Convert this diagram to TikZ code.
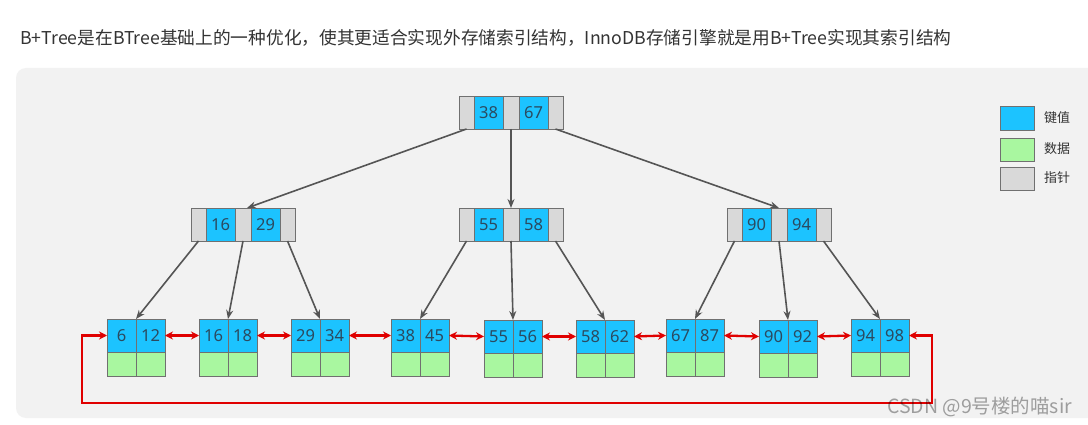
\documentclass[tikz,border=0pt]{standalone}
\usepackage{fontspec}
\setmainfont{Noto Sans CJK SC}
\newfontfamily\numfont{Noto Sans}
\usetikzlibrary{arrows.meta}
\definecolor{keyblue}{HTML}{1CC3FF}
\definecolor{datagreen}{HTML}{A9F7A0}
\definecolor{ptrgray}{HTML}{D9D9D9}
\definecolor{cellline}{HTML}{707070}
\definecolor{panel}{HTML}{F2F2F2}
\definecolor{numcol}{HTML}{2B4A60}
\definecolor{treearrow}{HTML}{555555}
\definecolor{linkred}{HTML}{E00000}
\definecolor{titlecol}{HTML}{333333}
\tikzset{
  cell/.style={draw=cellline,line width=0.8pt,inner sep=0pt,outer sep=0pt,minimum height=33pt,font=\numfont\fontsize{16.5}{18}\selectfont,text=numcol},
  keycell/.style={cell,fill=keyblue,minimum width=29pt},
  ptrcell/.style={cell,fill=ptrgray},
  datacell/.style={cell,fill=datagreen,minimum width=29pt,minimum height=24pt},
  treelink/.style={draw=treearrow,line width=1.6pt,-{Stealth[length=9pt,width=7pt]}},
  leaflink/.style={draw=linkred,line width=2.3pt,{Stealth[length=8pt,width=8pt]}-{Stealth[length=8pt,width=8pt]}},
  legbox/.style={draw=cellline,line width=0.8pt,minimum width=34pt,minimum height=24pt,inner sep=0pt},
  legtext/.style={anchor=west,font=\fontsize{13}{15}\selectfont,text=titlecol,inner sep=0pt}
}
\newcommand\innode[5]{%
  \node[ptrcell,minimum width=15pt,anchor=north west] (#1p1) at (#2,#3) {};
  \node[keycell,anchor=west] (#1k1) at (#1p1.east) {#4};
  \node[ptrcell,minimum width=16pt,anchor=west] (#1p2) at (#1k1.east) {};
  \node[keycell,anchor=west] (#1k2) at (#1p2.east) {#5};
  \node[ptrcell,minimum width=15pt,anchor=west] (#1p3) at (#1k2.east) {};
}
\newcommand\leafnode[5]{%
  \node[keycell,anchor=north west] (#1a) at (#2,#3) {#4};
  \node[keycell,anchor=west] (#1b) at (#1a.east) {#5};
  \node[datacell,anchor=north] (#1c) at (#1a.south) {};
  \node[datacell,anchor=north] (#1d) at (#1b.south) {};
}
\begin{document}
\begin{tikzpicture}[x=1pt,y=-1pt]
\useasboundingbox (0,0) rectangle (1088,425);
\fill[white] (0,0) rectangle (1088,425);
\fill[panel,rounded corners=10pt] (16,68) rectangle (1110,418);
\node[anchor=west,inner sep=0pt,text=titlecol,font=\fontsize{17.7}{20}\selectfont] (title) at (20,38) {B+Tree是在BTree基础上的一种优化，使其更适合实现外存储索引结构，InnoDB存储引擎就是用B+Tree实现其索引结构};
% tree
\innode{root}{459}{96}{38}{67}
\innode{na}{191}{208}{16}{29}
\innode{nb}{459}{208}{55}{58}
\innode{nc}{727}{208}{90}{94}
\leafnode{la}{107}{319}{6}{12}
\leafnode{lb}{199}{319}{16}{18}
\leafnode{lc}{291}{319}{29}{34}
\leafnode{ld}{391}{319}{38}{45}
\leafnode{le}{484}{320}{55}{56}
\leafnode{lf}{576}{320}{58}{62}
\leafnode{lg}{666}{319}{67}{87}
\leafnode{lh}{759}{320}{90}{92}
\leafnode{li}{851}{319}{94}{98}
% tree arrows
\draw[treelink] (rootp1.south) -- ([xshift=4pt]nap2.north);
\draw[treelink] (rootp2.south) -- (nbp2.north);
\draw[treelink] (rootp3.south) -- (ncp2.north);
\draw[treelink] (nap1.south) -- (laa.north east);
\draw[treelink] (nap2.south) -- (lba.north east);
\draw[treelink] (nap3.south) -- (lca.north east);
\draw[treelink] (nbp1.south) -- (lda.north east);
\draw[treelink] (nbp2.south) -- (lea.north east);
\draw[treelink] (nbp3.south) -- (lfa.north east);
\draw[treelink] (ncp1.south) -- (lga.north east);
\draw[treelink] (ncp2.south) -- (lha.north east);
\draw[treelink] (ncp3.south) -- (lia.north east);
% leaf links
\draw[leaflink] (lab.east) -- (lba.west);
\draw[leaflink] (lbb.east) -- (lca.west);
\draw[leaflink] (lcb.east) -- (lda.west);
\draw[leaflink] (ldb.east) -- (lea.west);
\draw[leaflink] (leb.east) -- (lfa.west);
\draw[leaflink] (lfb.east) -- (lga.west);
\draw[leaflink] (lgb.east) -- (lha.west);
\draw[leaflink] (lhb.east) -- (lia.west);
\coordinate (loopL) at (82,403);
\coordinate (loopR) at (932,403);
\draw[leaflink] (laa.west) -| (loopL) -- (loopR) |- (lib.east);
% legend
\node[legbox,fill=keyblue,anchor=north west] (legk) at (1000,106) {};
\node[legbox,fill=datagreen,anchor=north west,minimum height=23pt] (legd) at (1000,138) {};
\node[legbox,fill=ptrgray,anchor=north west,minimum height=23pt] (legp) at (1000,167) {};
\node[legtext] (legkt) at (1044,118) {键值};
\node[legtext] (legdt) at (1044,149) {数据};
\node[legtext] (legpt) at (1044,178) {指针};
% watermark
\node[anchor=west,inner sep=0pt,text=black,opacity=0.35,font=\fontsize{19.5}{21}\selectfont] (wm) at (887,407) {CSDN @9号楼的喵sir};
\end{tikzpicture}
\end{document}
